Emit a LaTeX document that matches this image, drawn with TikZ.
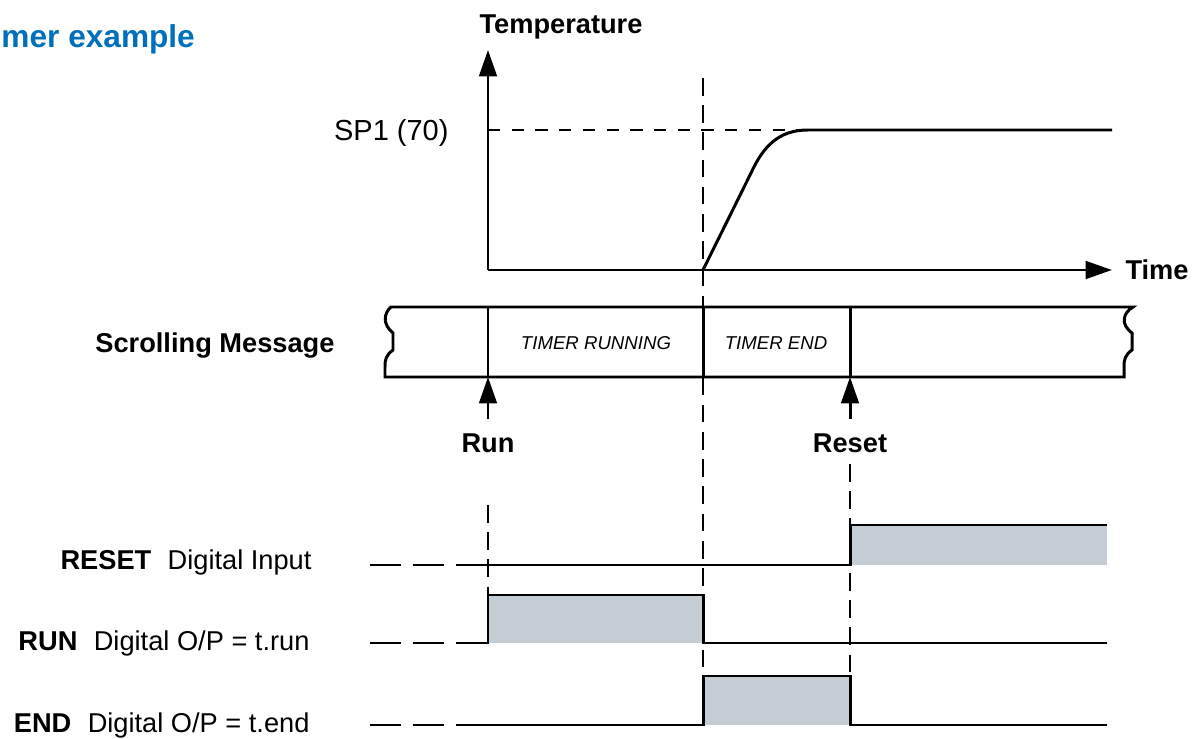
\documentclass[tikz,border=0pt]{standalone}
\usepackage{fontspec}
\setmainfont{Liberation Sans}
\usepackage{tikz}
\usetikzlibrary{arrows.meta}
\usepackage{xcolor}
\definecolor{titleblue}{RGB}{0,112,186}
\definecolor{highfill}{RGB}{195,205,211}
\tikzset{%
    label text/.style={inner sep=0pt,anchor=base,font=\fontsize{15.5}{18}\selectfont},
    bold text/.style={label text,font=\fontsize{15.5}{18}\selectfont\bfseries},
    marker/.style={dash pattern=on 10pt off 5.5pt,line width=0.75pt}
}

\begin{document}
\begin{tikzpicture}[x=0.02cm,y=-0.02cm,line width=1.7pt,
  pointer/.style={-{Triangle[length=15pt,width=10pt]}},
  lead/.style={dash pattern=on 17.6pt off 6.8pt},
  msg text/.style={inner sep=0pt,anchor=base,font=\fontsize{10.6}{12}\selectfont\itshape}]
  \useasboundingbox (0,0) rectangle (1197,739);

  \node[bold text,anchor=base west,text=titleblue,font=\fontsize{18}{21}\selectfont\bfseries] (title) at (0,48) {mer example};

  % guide lines
  \draw[marker] (703,78) -- (703,676);
  \draw[marker] (488,505) -- (488,595);
  \draw[marker] (850,464) -- (850,676);
  \draw[line width=0.8pt,dash pattern=on 7pt off 6.5pt] (488,130) -- (805,130);

  % temperature plot
  \coordinate (origin) at (488,270);
  \node[bold text] (temp) at (561,34) {Temperature};
  \node[bold text,anchor=base west] (time) at (1124,280) {Time};
  \node[label text,anchor=base east,font=\fontsize{16.5}{19}\selectfont] (sp) at (450,141) {SP1 (70)};
  \draw[pointer] (origin) -- (488,50);
  \draw[pointer] (origin) -- (1112,270);
  \draw (703,270) -- (751,173) .. controls (763,147) and (778,130) .. (808,130) -- (1112,130);

  % scrolling message tape
  \node[bold text,anchor=base east] (msg) at (336,353) {Scrolling Message};
  \coordinate (tb) at (0,377);
  \draw (391,307) -- (1133,307) .. controls (1123,313) and (1120,324) .. (1132,333) -- (1132,350)
    .. controls (1125,355) and (1124,360) .. (1124,366) -- (1124,377) -- (385,377) -- (385,366)
    .. controls (385,360) and (386,355) .. (393,350) -- (393,333)
    .. controls (382,324) and (384,313) .. (391,307) -- cycle;
  \foreach \x in {488,703,850}
    \draw (\x,307) -- (\x,377);
  \node[msg text] (running) at (596,350) {TIMER RUNNING};
  \node[msg text] (ended) at (776,350) {TIMER END};

  \node[bold text] (run) at (488,453) {Run};
  \node[bold text] (reset) at (850,453) {Reset};
  \draw[pointer,shorten <=8pt] (run.north) -- (run.north |- tb);
  \draw[pointer,shorten <=8pt] (reset.north) -- (reset.north |- tb);

  % digital signals
  \node[label text,anchor=base east] (in) at (313,570) {\textbf{RESET}\hspace{0.6em}Digital Input};
  \node[label text,anchor=base east] (op1) at (311,650) {\textbf{RUN}\hspace{0.6em}Digital O/P = t.run};
  \node[label text,anchor=base east] (op2) at (311,732) {\textbf{END}\hspace{0.6em}Digital O/P = t.end};

  \fill[highfill] (850,525) rectangle (1107,565);
  \fill[highfill] (488,595) rectangle (703,643);
  \fill[highfill] (703,676) rectangle (850,725);

  \draw[lead] (370,565) -- (444,565);
  \draw (456,565) -- (850,565) -- (850,525) -- (1107,525);
  \draw[lead] (370,643) -- (444,643);
  \draw (456,643) -- (488,643) -- (488,595) -- (703,595) -- (703,643) -- (1107,643);
  \draw[lead] (370,725) -- (444,725);
  \draw (456,725) -- (703,725) -- (703,676) -- (850,676) -- (850,725) -- (1107,725);
\end{tikzpicture}
\end{document}
